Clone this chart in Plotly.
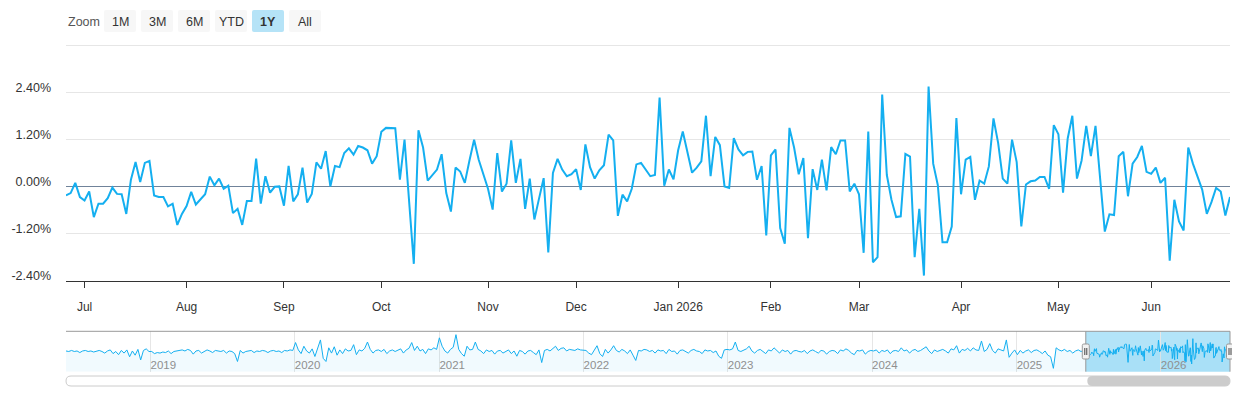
import pandas as pd
import plotly.graph_objects as go

# ---- data ----
holidays = ['2025-07-04', '2025-09-01', '2025-11-27', '2025-12-25', '2026-01-01',
            '2026-01-19', '2026-02-16', '2026-04-03', '2026-05-25', '2026-06-19']
month_labels = ['Jul', 'Aug', 'Sep', 'Oct', 'Nov', 'Dec', 'Jan 2026',
                'Feb', 'Mar', 'Apr', 'May', 'Jun']
zoom_buttons = ['1M', '3M', '6M', 'YTD', '1Y', 'All']
selected_button = '1Y'

# daily change in %, 25 Jun 2025 -> 25 Jun 2026 (trading days)
ret_jul_sep = [-0.23, -0.17, 0.09, -0.27, -0.36, -0.13, -0.78, -0.44, -0.44, -0.30,
               -0.03, -0.19, -0.20, -0.70, 0.17, 0.62, 0.11, 0.60, 0.65, -0.23,
               -0.27, -0.27, -0.51, -0.44, -0.98, -0.70, -0.50, -0.14, -0.46, -0.34,
               -0.20, 0.25, 0.03, 0.20, -0.06, 0.02, -0.68, -0.57, -0.98, -0.37,
               -0.37, 0.71, -0.44, 0.26, -0.16, -0.01, 0.00, -0.49, 0.52, -0.38,
               -0.20, 0.48, -0.41, -0.19, 0.61, 0.45, 0.90, 0.00, 0.52, 0.49,
               0.85, 0.97, 0.81, 1.03, 0.99, 0.92, 0.58, 0.77]
ret_oct_dec = [1.39, 1.49, 1.48, 1.48, 0.17, 1.19, -0.40, -1.97, 1.43, 0.99,
               0.15, 0.28, 0.43, 0.82, -0.17, -0.64, 0.48, 0.38, 0.09, 0.66,
               1.19, 0.68, 0.32, -0.06, -0.59, 0.85, -0.13, 0.07, 1.17, 0.09,
               0.70, -0.57, 0.20, -0.84, -0.31, 0.21, -1.68, 0.34, 0.70, 0.43,
               0.26, 0.31, 0.44, -0.09, 1.07, 0.49, 0.20, 0.41, 0.54, 1.32,
               1.17, -0.75, -0.21, -0.38, -0.06, 0.56, 0.60, 0.43, 0.26, 0.29,
               2.26, 0.02, 0.43, 0.18]
ret_jan_mar = [0.92, 1.40, 0.90, 0.35, 0.48, 0.64, 1.80, 0.26, 1.26, 1.05,
               0.00, -0.04, 1.23, 0.94, 0.79, 0.88, 0.89, 0.17, 0.52, -1.25,
               0.79, 0.94, -1.06, -1.46, 1.49, 0.99, 0.31, 0.72, -1.32, 0.44,
               -0.09, 0.68, -0.10, 1.00, 0.82, 1.17, 1.17, -0.13, 0.07, -0.20,
               -1.69, 1.40, -1.93, -1.80, 2.34, 0.29, -0.34, -0.78, -0.76, 0.83,
               0.76, -1.80, -0.57, -2.27, 2.54, 0.58, 0.03, -1.42, -1.42, -1.02,
               1.74]
ret_apr_jun = [-0.20, 0.68, 0.75, -0.34, 0.15, 0.07, 0.51, 1.73, 1.11, 0.20,
               0.07, 1.19, 0.62, -1.02, 0.05, 0.13, 0.15, 0.24, 0.24, -0.06,
               1.56, 1.33, -0.16, 1.22, 1.80, 0.20, 0.66, 1.54, 0.77, 1.54,
               0.20, -1.15, -0.71, -0.73, 0.77, 0.88, -0.25, 0.58, 0.75, 1.03,
               0.37, 0.32, 0.48, 0.09, 0.22, -1.89, -0.34, -0.89, -1.12, 0.99,
               0.58, 0.22, -0.08, -0.70, -0.40, -0.04, -0.13, -0.74, -0.27]

# navigator history, roughly one reading per week (Fridays)
hist_2018 = [0.2, 0.1, 0.3, 0.1, 0.2, -0.1, 0.2, 0.3, 0.1, 0.2, 0.0, 0.2, 0.3, 0.1, -0.2, 0.2,
             0.4, -0.3, 0.1, -0.5, 0.3, -0.2, 0.4, -0.9, 0.2, -0.6, 0.5, -1.5, 0.3, 0.6, 0.1]
hist_2019 = [0.1, -0.3, -0.1, -0.2, 0.0, -0.1, 0.2, -0.3, 0.1, 0.2, 0.3, 0.4, 0.2, 0.5, 0.3, -0.4,
             0.2, 0.3, -0.2, 0.1, 0.4, 0.2, -0.1, 0.3, 0.2, 0.1, 0.3, -0.2, 0.2, 0.1, -0.3, -1.8,
             0.3, -0.2, 0.1, 0.2, 0.3, -0.1, 0.2, 0.1, 0.3, 0.2, -0.1, 0.2, 0.3, 0.1, 0.2, -0.1,
             0.3, 0.2, 0.4, 0.3]
hist_2020 = [1.8, 0.4, -0.3, 1.1, 0.2, -0.2, 0.6, -0.85, 0.9, 2.3, -1.2, -1.8, 0.8, -0.2, 1.0, -0.6,
             0.4, -0.3, 0.6, 0.2, 0.3, 1.4, -0.5, 0.4, 0.2, 0.7, 1.9, 0.5, -0.2, 0.3, 0.4, 0.1,
             0.5, -0.3, 0.2, 0.4, 0.1, 0.3, 0.6, -0.2, 0.4, 0.7, 1.8, 0.3, 1.1, 0.2, 0.5, -0.3,
             0.6, 0.4, 0.8, 0.5]
hist_2021 = [2.7, 1.1, 0.2, -0.2, 0.5, 0.9, 3.3, 0.5, -0.3, -0.8, 1.1, 0.4, 0.5, 1.9, 0.5, 0.2,
             -0.3, 0.4, 0.1, 0.3, -0.4, 0.2, 0.3, -0.2, 0.1, 0.4, -0.3, 0.2, -0.8, 0.3, 0.1, -0.4,
             0.2, 0.3, -0.1, -0.5, 0.4, -2.0, 0.3, 0.5, 0.2, 0.6, 1.1, 0.3, 0.7, 0.8, 0.2, 0.5,
             0.4, 0.3, 0.6, 0.4]
hist_2022 = [0.3, -0.2, -0.5, 0.4, 1.2, -0.3, -0.85, 0.5, -0.2, 0.4, 1.2, 0.3, 0.0, 0.5, 0.2, -0.3,
             0.4, -0.6, -1.6, 0.3, 0.2, 0.5, 0.4, 0.1, 0.3, -0.2, 0.4, 0.2, 0.3, -0.3, 0.5, 0.1,
             0.2, -0.4, 0.3, 0.4, 0.1, -0.2, 0.3, 0.5, 0.2, 0.1, -0.3, 0.4, 0.2, 0.3, -0.1, 0.2,
             -0.8, -1.2, 0.4, 0.5]
hist_2023 = [0.4, 0.6, 1.9, 0.3, 0.1, 0.4, 0.6, 1.1, 0.2, -0.2, 0.3, 0.5, 0.1, -0.3, 0.4, 0.2,
             0.8, 0.3, -0.2, 0.4, 0.1, 0.3, -0.4, 0.2, 0.3, 0.1, 0.0, 0.3, -0.3, 0.2, 0.4, 0.1,
             -0.2, 0.3, 0.2, -0.4, 0.1, 0.3, 0.2, -0.3, 0.4, 0.2, 0.6, 0.3, -0.2, -0.5, 0.3, 0.2,
             0.4, -0.4, 0.1, 0.3]
hist_2024 = [0.2, 0.4, -0.2, 0.3, 0.1, 0.4, -0.3, 0.2, 0.3, 0.1, 0.8, 0.2, 0.4, -0.2, 0.3, 0.5,
             0.1, 0.3, 0.6, 1.0, 0.2, -0.3, 0.4, 0.1, 0.3, 0.5, 0.2, -0.2, 0.6, 0.4, 1.2, -0.2,
             0.5, 0.3, 0.7, 0.2, 0.8, 0.4, 0.3, 2.1, 0.1, 0.5, 1.6, 0.3, -0.2, 0.6, 0.4, 0.2,
             2.3, -1.0, -0.2, 0.4]
hist_2025 = [-0.5, 0.3, -0.2, 0.2, 0.4, -0.1, 0.3, 0.4, 0.1, -0.3, 0.2, -0.6, -0.9, -3.1, 0.8, 0.4,
             0.2, 0.5, 0.1, 0.3, -0.2, 0.2, 0.4, 0.1, 0.3]

LINE = '#14aff0'
FONT = 'Liberation Sans, Arial, sans-serif'

# the page body has an 8px margin, so the figure sits at (8, 8) on the page
OFF = 8
W, H = 1224, 384
PLOT_L, PLOT_R, PLOT_T, PLOT_B = 66, 1230, 45, 386   # page pixels
ML, MR, MT = PLOT_L - OFF, W + OFF - PLOT_R, PLOT_T - OFF
MB = H + OFF - PLOT_B


def px(x):
    return (x - PLOT_L) / (PLOT_R - PLOT_L)


def py(y):
    return (PLOT_B - y) / (PLOT_B - PLOT_T)


def rounded(x0, y0, x1, y1, r):
    # rounded rectangle given in page pixels, returned as a paper-space svg path
    return (f"M {px(x0 + r)},{py(y0)} L {px(x1 - r)},{py(y0)} "
            f"Q {px(x1)},{py(y0)} {px(x1)},{py(y0 + r)} L {px(x1)},{py(y1 - r)} "
            f"Q {px(x1)},{py(y1)} {px(x1 - r)},{py(y1)} L {px(x0 + r)},{py(y1)} "
            f"Q {px(x0)},{py(y1)} {px(x0)},{py(y1 - r)} L {px(x0)},{py(y0 + r)} "
            f"Q {px(x0)},{py(y0)} {px(x0 + r)},{py(y0)} Z")


dates = pd.bdate_range('2025-06-25', '2026-06-25', freq='C', holidays=holidays)
returns = ret_jul_sep + ret_oct_dec + ret_jan_mar + ret_apr_jun

s = pd.Series(dates)
month_starts = list(s.groupby(s.dt.to_period('M')).first())[1:]

# navigator series: weekly history + the daily year shown above
hist = {2018: hist_2018, 2019: hist_2019, 2020: hist_2020, 2021: hist_2021,
        2022: hist_2022, 2023: hist_2023, 2024: hist_2024, 2025: hist_2025}
nav_x, nav_y = [], []
for year, vals in hist.items():
    start = '2018-06-01' if year == 2018 else f'{year}-01-01'
    nav_x += list(pd.date_range(start, periods=len(vals), freq='W-FRI'))
    nav_y += vals
nav_x += list(dates)
nav_y += returns

nav_start, nav_end = pd.Timestamp('2018-06-01'), dates[-1]
nav_pad = 0.1 * (max(nav_y) - min(nav_y))
nav_lo, nav_hi = min(nav_y) - nav_pad, max(nav_y) + nav_pad


def nav_px(d):
    frac = (pd.Timestamp(d) - nav_start) / (nav_end - nav_start)
    return PLOT_L + frac * (PLOT_R - PLOT_L)


fig = go.Figure()
fig.add_trace(go.Scatter(x=dates, y=returns, mode='lines',
                         line=dict(color=LINE, width=2), hoverinfo='skip'))

# navigator area: invisible floor line, then the series filled down to it
fig.add_trace(go.Scatter(x=[nav_start, nav_end], y=[nav_lo, nav_lo], mode='lines',
                         line=dict(width=0), xaxis='x2', yaxis='y2', hoverinfo='skip'))
fig.add_trace(go.Scatter(x=nav_x, y=nav_y, mode='lines', xaxis='x2', yaxis='y2',
                         line=dict(color=LINE, width=1), fill='tonexty',
                         fillcolor='rgba(20,175,240,0.06)', hoverinfo='skip'))

shapes = []
annotations = []

# top gridline (3.60%, unlabeled)
shapes.append(dict(type='line', xref='paper', yref='paper', x0=0, x1=1,
                   y0=py(PLOT_T + 0.5), y1=py(PLOT_T + 0.5),
                   line=dict(color='#e6e6e6', width=1)))

# range selector
annotations.append(dict(text='Zoom', x=px(66), y=py(21.5), xref='paper', yref='paper',
                        xanchor='left', yanchor='middle', showarrow=False,
                        font=dict(family=FONT, size=12.5, color='#555')))
for k, label in enumerate(zoom_buttons):
    x0 = 104 + 37 * k
    on = label == selected_button
    shapes.append(dict(type='path', path=rounded(x0, 10, x0 + 32, 32, 2), xref='paper', yref='paper',
                       fillcolor='#b5e3f7' if on else '#f7f7f7', line=dict(width=0)))
    annotations.append(dict(text=f'<b>{label}</b>' if on else label, x=px(x0 + 16), y=py(21.5),
                            xref='paper', yref='paper', xanchor='center', yanchor='middle',
                            showarrow=False, font=dict(family=FONT, size=12.5, color='#333')))

# navigator mask, outline, handles
m0, m1 = nav_px('2025-06-25'), nav_px(nav_end)
nav_top, nav_bot = 331.3, 371.7
shapes.append(dict(type='rect', xref='paper', yref='paper', layer='below',
                   x0=px(m0), x1=px(m1), y0=py(nav_bot), y1=py(nav_top),
                   fillcolor='#b3e4f8', line=dict(width=0)))
shapes.append(dict(type='line', xref='paper', yref='paper', x0=0, x1=1,
                   y0=py(nav_top), y1=py(nav_top), line=dict(color='#999', width=1)))
for mx in (m0, m1):
    shapes.append(dict(type='line', xref='paper', yref='paper', x0=px(mx), x1=px(mx),
                       y0=py(nav_bot), y1=py(nav_top), line=dict(color='#999', width=1)))
    shapes.append(dict(type='path', path=rounded(mx - 3.5, 344, mx + 3.5, 359, 1.5),
                       xref='paper', yref='paper', fillcolor='#f2f2f2',
                       line=dict(color='#999', width=1)))
    for gx in (mx - 1, mx + 1):
        shapes.append(dict(type='line', xref='paper', yref='paper', x0=px(gx), x1=px(gx),
                           y0=py(348), y1=py(355), line=dict(color='#444', width=1)))

# scrollbar
shapes.append(dict(type='path', path=rounded(66, 376, 1230, 386, 5), xref='paper', yref='paper',
                   fillcolor='white', line=dict(color='#cccccc', width=1)))
shapes.append(dict(type='path', path=rounded(m0 + 1.5, 376, m1, 386, 5), xref='paper', yref='paper',
                   fillcolor='#cccccc', line=dict(width=0)))

fig.update_layout(
    width=W, height=H,
    margin=dict(l=ML, r=MR, t=MT, b=MB),
    paper_bgcolor='white', plot_bgcolor='white',
    showlegend=False, hovermode=False,
    font=dict(family=FONT, color='#333'),
    shapes=shapes, annotations=annotations,
    xaxis=dict(domain=[0, 1], anchor='y', type='date', automargin=False,
               range=[dates[0], dates[-1]],
               rangebreaks=[dict(bounds=['sat', 'mon']), dict(values=holidays)],
               tickvals=month_starts, ticktext=month_labels,
               showgrid=False, showline=True, linecolor='#333', linewidth=1,
               ticks='outside', ticklen=6, tickcolor='#333',
               tickfont=dict(size=12, color='#333'), ticklabelstandoff=9),
    yaxis=dict(domain=[py(280.7), 1], anchor='x', range=[-2.4, 3.6], automargin=False,
               tickvals=[-2.4, -1.2, 0, 1.2, 2.4, 3.6],
               ticktext=['-2.40%', '-1.20%', '0.00%', '1.20%', '2.40%', ''],
               showgrid=True, gridcolor='#e6e6e6', gridwidth=1,
               zeroline=True, zerolinecolor='#70839a', zerolinewidth=1,
               showline=False, ticks='', tickfont=dict(size=12.5, color='#333'),
               ticklabelstandoff=14, ticklabelshift=-5),
    xaxis2=dict(domain=[0, 1], anchor='y2', type='date', range=[nav_start, nav_end],
                automargin=False, dtick='M12', tick0='2019-01-01', tickformat='%Y',
                ticklabelposition='inside right', ticklabelstandoff=-6,
                showgrid=True, gridcolor='#e6e6e6',
                showline=False, ticks='', tickfont=dict(size=11.5, color='#8f8f8f')),
    yaxis2=dict(domain=[py(nav_bot), py(nav_top)], anchor='x2', range=[nav_lo, nav_hi],
                automargin=False, showgrid=False, zeroline=False, showticklabels=False,
                ticks=''),
)

fig.write_html("out.html", config={'displayModeBar': False})
